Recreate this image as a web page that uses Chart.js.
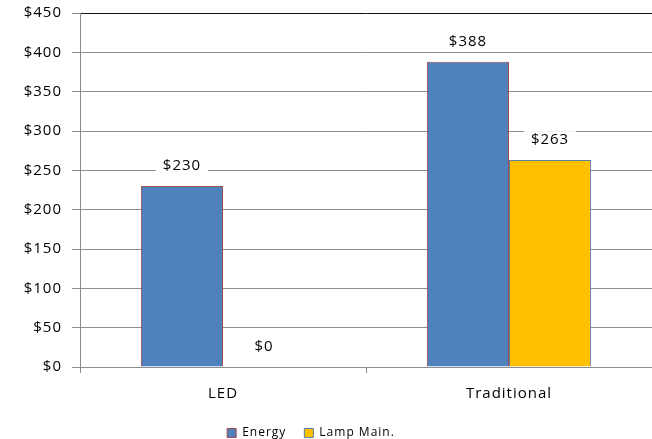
<!DOCTYPE html>
<html>
<head>
<meta charset="utf-8">
<script src="https://cdn.jsdelivr.net/npm/chart.js@4"></script>
<style>
  html, body { margin: 0; padding: 0; background: #fff; }
  #wrap { width: 652px; height: 439px; }
</style>
</head>
<body>
<div id="wrap"><canvas id="chartCusto"></canvas></div>
<script>
// Custo por tipo de lâmpada
const categorias = ['LED', 'Traditional'];
const energia = [230, 388];
const manutencao = [0, 263];
const nomesSeries = ['Energy', 'Lamp Main.'];

const fonte = '"Open Sans", Lato, sans-serif';
const corTexto = '#000';

// Espaçamento entre letras (o contexto perde o estado quando o canvas é redimensionado)
const espacamento = {
    id: 'espacamento',
    beforeUpdate(chart) { chart.ctx.letterSpacing = '1px'; },
    beforeLayout(chart) { chart.ctx.letterSpacing = '1px'; },
    afterLayout(chart) {
        // legenda um pouco deslocada para a esquerda
        chart.legend.left -= 25;
        chart.legend.right -= 25;
    },
    beforeDraw(chart) { chart.ctx.letterSpacing = '1px'; }
};

// Rótulos de valor com fundo branco acima das barras
const rotulosValor = {
    id: 'rotulosValor',
    afterDatasetsDraw(chart) {
        const ctx = chart.ctx;
        ctx.save();
        ctx.font = '15px ' + fonte;
        ctx.textAlign = 'center';
        ctx.textBaseline = 'middle';
        chart.data.datasets.forEach((ds, i) => {
            chart.getDatasetMeta(i).data.forEach((bar, j) => {
                const txt = '$' + ds.data[j];
                const w = ctx.measureText(txt).width + 14;
                const y = bar.y - 20;
                ctx.fillStyle = '#fff';
                ctx.fillRect(bar.x - w / 2, y - 9, w, 18);
                ctx.fillStyle = corTexto;
                ctx.fillText(txt, bar.x, y);
            });
        });
        ctx.restore();
    }
};

const ctx = document.getElementById('chartCusto').getContext('2d');

new Chart(ctx, {
    type: 'bar',
    data: {
        labels: categorias,
        datasets: [{
            label: nomesSeries[0],
            data: energia,
            backgroundColor: '#4F81BD',
            borderColor: '#A04A4A',
            borderWidth: 1
        }, {
            label: nomesSeries[1],
            data: manutencao,
            backgroundColor: '#FFC000',
            borderColor: '#5A7FA8',
            borderWidth: 1
        }]
    },
    options: {
        responsive: true,
        maintainAspectRatio: false,
        animation: false,
        datasets: {
            bar: { categoryPercentage: 0.574, barPercentage: 1 }
        },
        layout: { padding: { top: 13, right: 0, left: 20, bottom: -10 } },
        plugins: {
            legend: {
                position: 'bottom',
                labels: {
                    boxWidth: 9,
                    boxHeight: 9,
                    padding: 18,
                    color: corTexto,
                    font: { family: fonte, size: 12 }
                }
            },
            tooltip: { enabled: false }
        },
        scales: {
            y: {
                min: 0,
                max: 450,
                afterFit: s => { s.width = 60; s.paddingTop = 0; s.paddingBottom = 0; },
                ticks: {
                    stepSize: 50,
                    color: corTexto,
                    padding: 10,
                    font: { family: fonte, size: 15 },
                    callback: v => '$' + v
                },
                border: { color: '#8c8c8c', width: 1 },
                grid: {
                    color: c => c.tick && c.tick.value === 450 ? '#111' : '#8c8c8c',
                    tickColor: '#8c8c8c',
                    tickLength: 8
                }
            },
            x: {
                afterFit: s => { s.height = 42; },
                ticks: {
                    color: corTexto,
                    padding: 12,
                    font: { family: fonte, size: 15 }
                },
                border: { color: '#8c8c8c', width: 1 },
                grid: {
                    drawOnChartArea: false,
                    tickColor: '#8c8c8c',
                    tickLength: 6
                }
            }
        }
    },
    plugins: [espacamento, rotulosValor]
});
</script>
</body>
</html>
